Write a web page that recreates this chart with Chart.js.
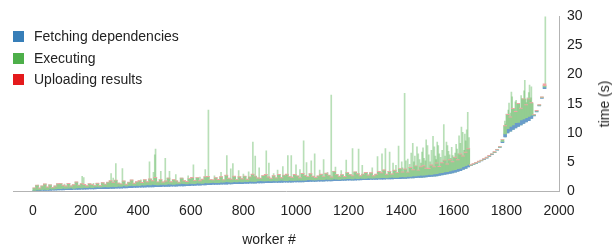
<!DOCTYPE html>
<html>
<head>
<meta charset="utf-8">
<script src="https://cdn.jsdelivr.net/npm/chart.js@4.4.1/dist/chart.umd.min.js"></script>
<style>
  body { margin: 0; background: #fff; }
  #wrap { position: relative; width: 614px; height: 249px; font-family: 'Liberation Sans', Arial, Helvetica, sans-serif; color: #222; }
  canvas { position: absolute; left: 0; top: 0; }
  .item { position: absolute; left: 13px; height: 11px; display: flex; align-items: center; font-size: 14px; line-height: 11px; white-space: nowrap; }
  .sw { width: 11px; height: 11px; margin-right: 10px; }
  .title { position: absolute; font-size: 14px; line-height: 14px; white-space: nowrap; }
</style>
</head>
<body>
<div id="wrap">
  <canvas id="grafico" width="614" height="249" style="width:614px;height:249px"></canvas>
  <div class="item" style="top:31px"><div class="sw" style="background:#377eb8"></div><span>Fetching dependencies</span></div>
  <div class="item" style="top:52.5px"><div class="sw" style="background:#4daf4a"></div><span>Executing</span></div>
  <div class="item" style="top:74px"><div class="sw" style="background:#e41a1c"></div><span>Uploading results</span></div>
  <div class="title" style="left:269px;top:239px;transform:translate(-50%,-50%)">worker #</div>
  <div class="title" style="left:604px;top:104px;transform:translate(-50%,-50%) rotate(-90deg)">time (s)</div>
</div>
<script>
// workers grouped in bins of 10, sorted as in the picture
const BIN = 10;

// start offset of each bin (s)
const baseline = [
  0.02,0.04,0.06,0.08,0.09,0.1,0.12,0.13,0.15,0.17,
  0.19,0.2,0.22,0.23,0.24,0.26,0.27,0.29,0.3,0.32,
  0.33,0.34,0.35,0.36,0.38,0.39,0.4,0.41,0.42,0.44,
  0.45,0.47,0.49,0.5,0.52,0.54,0.56,0.58,0.6,0.62,
  0.64,0.65,0.67,0.68,0.7,0.71,0.73,0.74,0.76,0.78,
  0.79,0.8,0.82,0.83,0.85,0.86,0.88,0.89,0.91,0.93,
  0.95,0.97,0.99,1.01,1.03,1.05,1.07,1.09,1.11,1.13,
  1.15,1.16,1.18,1.19,1.21,1.22,1.24,1.25,1.27,1.28,
  1.3,1.31,1.33,1.34,1.36,1.37,1.39,1.4,1.42,1.43,
  1.45,1.46,1.47,1.48,1.49,1.5,1.51,1.52,1.53,1.54,
  1.55,1.57,1.58,1.6,1.61,1.63,1.64,1.66,1.67,1.69,
  1.7,1.72,1.73,1.75,1.76,1.78,1.79,1.81,1.82,1.84,
  1.85,1.87,1.88,1.9,1.91,1.93,1.94,1.96,1.97,1.99,
  2.0,2.02,2.03,2.05,2.06,2.08,2.09,2.11,2.12,2.14,
  2.15,2.18,2.2,2.23,2.26,2.29,2.32,2.35,2.38,2.42,
  2.45,2.5,2.55,2.61,2.68,2.75,2.83,2.92,3.02,3.12,
  3.22,3.35,3.5,3.7,3.9,4.15,4.35,4.55,4.75,4.95,
  5.15,5.4,5.65,5.95,6.25,6.6,7.0,7.5,8.3,9.3,
  10.0,10.3,10.6,10.85,11.1,11.35,11.6,11.85,12.1,12.45,
  12.9,13.6,14.6,15.9,17.6
];

// fetching dependencies (s)
const fetching = [
  0.1,0.15,0.12,0.18,0.2,0.15,0.22,0.18,0.2,0.25,
  0.2,0.28,0.22,0.25,0.3,0.2,0.26,0.3,0.24,0.28,
  0.25,0.3,0.22,0.28,0.32,0.26,0.3,0.35,0.28,0.3,
  0.32,0.28,0.35,0.3,0.38,0.3,0.34,0.4,0.32,0.36,
  0.3,0.38,0.34,0.4,0.33,0.42,0.36,0.3,0.38,0.35,
  0.32,0.4,0.36,0.3,0.38,0.34,0.42,0.35,0.3,0.37,
  0.34,0.3,0.38,0.33,0.28,0.36,0.3,0.34,0.38,0.32,
  0.3,0.36,0.32,0.4,0.34,0.3,0.38,0.33,0.36,0.3,
  0.34,0.3,0.37,0.32,0.28,0.35,0.4,0.32,0.3,0.36,
  0.3,0.34,0.28,0.32,0.36,0.3,0.26,0.33,0.3,0.28,
  0.32,0.28,0.3,0.26,0.34,0.3,0.28,0.25,0.3,0.27,
  0.25,0.3,0.28,0.24,0.3,0.26,0.22,0.28,0.25,0.3,
  0.26,0.22,0.28,0.24,0.3,0.25,0.22,0.27,0.24,0.2,
  0.25,0.22,0.28,0.24,0.2,0.26,0.3,0.24,0.22,0.28,
  0.3,0.26,0.32,0.28,0.35,0.3,0.34,0.38,0.32,0.36,
  0.38,0.34,0.4,0.36,0.42,0.38,0.45,0.4,0.44,0.48,
  0.45,0.5,0.42,0.48,0.44,0.4,0.06,0.05,0.05,0.06,
  0.05,0.06,0.05,0.05,0.06,0.05,0.06,0.05,0.2,0.5,
  0.7,0.8,0.75,0.9,0.7,0.85,0.8,0.75,0.7,0.6,
  0.12,0.1,0.1,0.12,0.3
];

// executing, usual level in each bin (s)
const executing = [
  0.4,0.8,0.3,0.6,0.9,0.4,0.7,0.3,0.5,0.8,
  0.9,0.5,0.4,0.8,0.3,0.6,1.0,0.4,0.7,0.5,
  0.3,0.6,0.5,0.3,0.6,0.3,0.7,0.4,0.8,1.0,
  0.7,1.1,0.5,0.4,0.8,0.3,0.6,0.9,0.4,0.6,
  0.8,0.4,0.9,0.5,1.0,0.6,1.2,0.5,0.8,0.4,
  0.6,1.0,0.4,0.8,0.5,0.3,0.9,0.5,0.4,0.8,
  1.0,0.5,0.9,0.4,0.7,1.0,1.1,0.5,0.4,0.8,
  0.5,0.9,0.4,1.1,0.6,0.5,0.9,0.4,0.8,0.5,
  0.9,0.4,0.7,1.2,0.9,0.5,0.4,0.9,1.1,0.6,
  0.4,0.8,0.5,1.0,0.4,0.9,1.1,0.6,0.5,1.0,
  0.7,0.4,1.1,0.8,0.5,1.0,0.6,0.4,0.6,0.9,
  0.5,1.0,0.7,0.4,1.3,0.8,0.5,0.7,0.4,1.0,
  0.7,0.5,1.1,0.8,0.4,0.7,1.0,0.5,0.9,0.4,
  0.6,1.1,0.8,1.3,0.6,1.0,0.5,1.2,0.8,1.4,
  0.8,1.3,0.7,1.5,1.0,1.7,0.9,1.4,1.6,1.1,
  1.0,1.6,1.2,1.8,1.1,1.7,2.0,1.3,1.9,1.4,
  2.1,1.5,2.4,1.8,2.3,2.7,0.08,0.08,0.07,0.08,
  0.08,0.07,0.08,0.08,0.07,0.08,0.08,0.07,0.3,1.4,
  2.4,1.6,2.8,1.9,3.2,2.0,3.4,2.2,3.0,2.1,
  0.1,0.12,0.1,0.12,0.2
];

// uploading results (s)
const uploading = [
  0.04,0.03,0.05,0.04,0.03,0.05,0.04,0.03,0.05,0.04,
  0.03,0.05,0.04,0.05,0.03,0.04,0.05,0.03,0.04,0.05,
  0.04,0.05,0.03,0.04,0.05,0.04,0.03,0.05,0.04,0.05,
  0.05,0.04,0.03,0.05,0.05,0.04,0.05,0.03,0.04,0.05,
  0.04,0.05,0.04,0.03,0.05,0.05,0.04,0.05,0.03,0.04,
  0.05,0.04,0.05,0.04,0.03,0.05,0.04,0.05,0.04,0.03,
  0.05,0.04,0.05,0.03,0.04,0.05,0.04,0.03,0.05,0.05,
  0.04,0.05,0.03,0.04,0.05,0.04,0.05,0.04,0.03,0.05,
  0.04,0.05,0.04,0.05,0.03,0.04,0.05,0.05,0.04,0.03,
  0.05,0.04,0.03,0.05,0.04,0.05,0.04,0.03,0.05,0.04,
  0.05,0.04,0.05,0.03,0.04,0.05,0.05,0.04,0.03,0.05,
  0.04,0.05,0.04,0.05,0.03,0.04,0.05,0.04,0.05,0.04,
  0.03,0.05,0.04,0.04,0.05,0.03,0.05,0.04,0.05,0.04,
  0.05,0.04,0.05,0.04,0.03,0.05,0.04,0.05,0.04,0.05,
  0.04,0.05,0.05,0.04,0.06,0.05,0.04,0.05,0.05,0.06,
  0.05,0.06,0.04,0.05,0.05,0.06,0.05,0.05,0.06,0.05,
  0.06,0.05,0.06,0.05,0.05,0.06,0.03,0.03,0.02,0.03,
  0.03,0.02,0.03,0.03,0.02,0.03,0.03,0.02,0.04,0.05,
  0.06,0.05,0.06,0.05,0.06,0.05,0.05,0.06,0.05,0.05,
  0.03,0.03,0.03,0.03,0.3
];

// single workers whose execution sticks out (worker #, top in s)
const spikeWorkers = [
  20,45,95,120,150,187,193,230,262,297,305,315,340,375,
  410,443,458,463,466,486,503,519,543,570,590,610,635,655,667,690,
  715,737,752,760,782,800,820,836,845,860,887,897,915,930,950,969,982,
  1000,1015,1029,1040,1058,1071,1090,1105,1120,1134,1150,1172,1191,
  1215,1238,1252,1270,1290,1310,1327,1340,1356,1369,1380,1390,1402,1405,1413,1418,
  1425,1432,1438,1444,1448,1452,1460,1465,1470,1475,1479,1483,1487,1492,1495,1500,
  1505,1510,1515,1521,1526,1530,1533,1537,1541,1545,1550,1556,
  1562,1567,1572,1576,1580,1584,1588,1592,1596,1600,1605,1609,1613,1617,1620,1625,
  1629,1634,1639,1642,1645,1649,1653,1658,
  1794,1797,1800,1803,1807,1810,1813,1816,1819,1822,1825,1829,1834,1837,1840,1843,
  1847,1850,1853,1856,1859,1862,1864,1867,1870,1873,1876,1880,1882,1885,1888,1890,
  1893,1895,1898,1900,1948
];
const spikeTops = [
  1.0,0.9,1.1,1.2,1.0,2.5,2.3,1.3,1.5,3.0,2.2,4.7,3.85,1.8,
  1.9,5.0,3.2,6.2,7.2,3.4,5.6,3.4,2.8,2.1,2.6,4.5,2.4,3.7,13.9,2.6,
  3.2,6.1,3.8,4.7,3.5,2.9,3.3,8.4,6.0,4.0,6.9,4.8,3.0,3.6,4.2,6.1,6.1,
  4.5,3.7,8.6,4.9,5.2,6.4,3.6,5.4,3.2,16.5,4.1,3.5,5.3,
  7.3,7.2,4.4,3.2,4.0,5.9,6.4,7.3,6.7,4.8,4.4,7.7,5.0,4.0,16.8,5.2,
  5.5,4.6,6.5,8.2,5.0,6.0,7.6,6.4,5.4,4.8,6.7,7.4,5.6,5.2,8.8,7.8,
  6.2,5.0,7.0,9.4,7.6,6.0,5.4,8.4,7.8,6.4,5.8,7.0,
  11.4,6.0,8.4,7.8,6.8,6.2,5.6,7.5,6.1,5.8,6.5,8.0,7.2,6.4,9.5,8.2,
  11.0,10.1,7.0,9.8,8.6,10.5,13.5,9.2,
  12.0,11.5,13.2,12.8,13.9,15.1,12.5,13.4,17.0,16.2,14.2,14.0,15.3,15.6,13.6,15.0,
  14.7,13.2,13.8,16.4,15.9,14.0,14.8,17.2,19.0,15.8,15.2,16.0,14.6,16.9,18.2,15.5,
  16.0,17.9,15.2,15.0,30.0
];

const xTicks = { min: -76, max: 2000, step: 200 };
const yTicks = { min: 0, max: 30, step: 5 };

// floating bars: each phase starts where the previous one ends
const centro = i => i * BIN + BIN / 2;
const barrasFetch = baseline.map((b, i) => ({ x: centro(i), y: [b, b + fetching[i]] }));
const barrasExec = baseline.map((b, i) => {
  const lo = b + fetching[i];
  return { x: centro(i), y: [lo, lo + executing[i]] };
});
const barrasUpload = baseline.map((b, i) => {
  const lo = b + fetching[i] + executing[i];
  return { x: centro(i), y: [lo, lo + uploading[i]] };
});
const barrasPico = spikeWorkers.map((w, j) => {
  const bin = Math.min(Math.floor(w / BIN), baseline.length - 1);
  return { x: w, y: [baseline[bin], spikeTops[j]] };
});

Chart.defaults.font.family = "'Liberation Sans', Arial, Helvetica, sans-serif";
Chart.defaults.font.size = 14;
Chart.defaults.color = '#222';

const comun = { grouped: false, borderWidth: 0, borderSkipped: false };

new Chart(document.getElementById('grafico'), {
  type: 'bar',
  data: {
    datasets: [
      { label: 'Uploading results', data: barrasUpload, backgroundColor: '#f0a4a4', barThickness: 3, ...comun },
      { label: 'Executing', data: barrasExec, backgroundColor: '#93cd91', barThickness: 3, ...comun },
      { label: 'Fetching dependencies', data: barrasFetch, backgroundColor: '#6a9ccb', barThickness: 3, ...comun },
      { label: 'Executing (single workers)', data: barrasPico, backgroundColor: 'rgba(77,175,74,0.4)', barThickness: 1, ...comun }
    ]
  },
  options: {
    responsive: false,
    animation: false,
    devicePixelRatio: 1,
    layout: { padding: { left: 13, top: 16, right: 0, bottom: 0 } },
    plugins: { legend: { display: false }, tooltip: { enabled: false } },
    scales: {
      x: {
        type: 'linear',
        min: xTicks.min,
        max: xTicks.max,
        offset: false,
        grid: { display: false, drawTicks: false },
        border: { display: true, color: '#b3b3b3', width: 1 },
        ticks: { stepSize: xTicks.step, includeBounds: false, padding: 12, maxRotation: 0, autoSkip: false, callback: v => String(v) },
        afterFit: s => { s.height = 58; }
      },
      y: {
        position: 'right',
        min: yTicks.min,
        max: yTicks.max,
        grid: { display: false, drawTicks: false },
        border: { display: true, color: '#b3b3b3', width: 1 },
        ticks: { stepSize: yTicks.step, padding: 8, crossAlign: 'near' },
        afterFit: s => { s.width = 55; }
      }
    }
  }
});
</script>
</body>
</html>
